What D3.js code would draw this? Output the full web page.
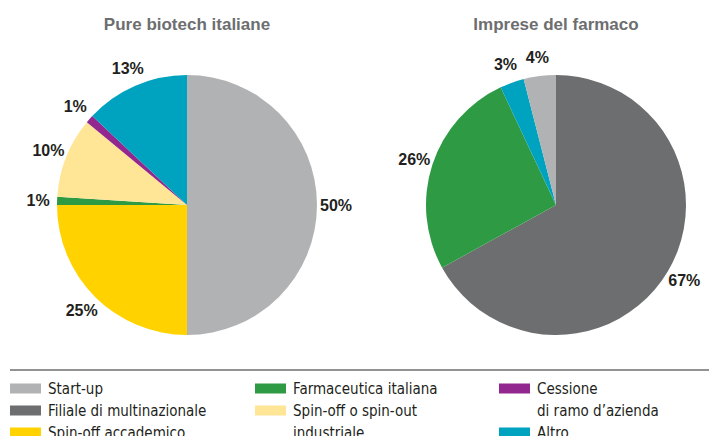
<!DOCTYPE html>
<html>
<head>
<meta charset="utf-8">
<script src="https://cdn.jsdelivr.net/npm/d3@7"></script>
<style>
  body { margin: 0; background: #fff; }
  .title { font-family: "Liberation Sans", Arial, sans-serif; font-weight: bold; font-size: 17px; fill: #6d6e70; }
  .pct { font-family: "Liberation Sans", Arial, sans-serif; font-weight: bold; font-size: 16px; fill: #231f20; }
  .leg { font-family: "Liberation Sans Narrow", "DejaVu Sans Condensed", sans-serif; font-size: 15px; fill: #231f20; }
</style>
</head>
<body>
<svg id="chart" width="709" height="436"></svg>
<script>
// categories and colours
var categories = ["Start-up", "Filiale di multinazionale", "Spin-off accademico",
                  "Farmaceutica italiana", "Spin-off o spin-out industriale",
                  "Cessione di ramo d'azienda", "Altro"];
var colors = ["#b1b2b4", "#6d6e70", "#ffd200", "#2e9a43", "#ffe697", "#92278f", "#00a3bf"];

// pie 1: Pure biotech italiane (clockwise from 12 o'clock)
var biotechCats = ["Start-up", "Spin-off accademico", "Farmaceutica italiana",
                   "Spin-off o spin-out industriale", "Cessione di ramo d'azienda", "Altro"];
var biotechValues = [50, 25, 1, 10, 1, 13];

// pie 2: Imprese del farmaco
var farmacoCats = ["Filiale di multinazionale", "Farmaceutica italiana", "Altro", "Start-up"];
var farmacoValues = [67, 26, 3, 4];

var titles = ["Pure biotech italiane", "Imprese del farmaco"];

// legend entries, placed by column / row
var legendLines = [
  {cat: "Start-up", col: 0, row: 0, lines: ["Start-up"]},
  {cat: "Filiale di multinazionale", col: 0, row: 1, lines: ["Filiale di multinazionale"]},
  {cat: "Spin-off accademico", col: 0, row: 2, lines: ["Spin-off accademico"]},
  {cat: "Farmaceutica italiana", col: 1, row: 0, lines: ["Farmaceutica italiana"]},
  {cat: "Spin-off o spin-out industriale", col: 1, row: 1, lines: ["Spin-off o spin-out", "industriale"]},
  {cat: "Cessione di ramo d'azienda", col: 2, row: 0, lines: ["Cessione", "di ramo d\u2019azienda"]},
  {cat: "Altro", col: 2, row: 2, lines: ["Altro"]}
];

var svg = d3.select("#chart");
var color = d3.scaleOrdinal().domain(categories).range(colors);

var radius = 130,
    labelRadius = 149;

var pie = d3.pie().sort(null).value(function(d) { return d.value; });
var arc = d3.arc().innerRadius(0).outerRadius(radius);
var labelArc = d3.arc().innerRadius(labelRadius).outerRadius(labelRadius);

function drawPie(cx, title, cats, values) {
  var data = cats.map(function(c, i) { return {cat: c, value: values[i]}; });
  var g = svg.append("g").attr("transform", "translate(" + cx + ",205)");

  svg.append("text")
    .attr("class", "title")
    .attr("x", cx)
    .attr("y", 30)
    .attr("text-anchor", "middle")
    .text(title);

  g.selectAll(".slice")
    .data(pie(data))
    .enter().append("path")
    .attr("class", "slice")
    .attr("d", arc)
    .attr("fill", function(d) { return color(d.data.cat); });

  g.selectAll(".pct")
    .data(pie(data))
    .enter().append("text")
    .attr("class", "pct")
    .attr("transform", function(d) { return "translate(" + labelArc.centroid(d) + ")"; })
    .attr("text-anchor", "middle")
    .attr("dy", "0.35em")
    .text(function(d) { return d.data.value + "%"; });
}

drawPie(187, titles[0], biotechCats, biotechValues);
drawPie(556, titles[1], farmacoCats, farmacoValues);

// legend
svg.append("line")
  .attr("x1", 10).attr("x2", 709)
  .attr("y1", 370).attr("y2", 370)
  .attr("stroke", "#6d6e70")
  .attr("stroke-width", 1.5);

var colX = [10, 255, 499],
    rowY = 388,
    rowH = 22;

var items = svg.append("g").selectAll("g")
  .data(legendLines)
  .enter().append("g")
  .attr("transform", function(d) { return "translate(" + colX[d.col] + "," + (rowY + d.row * rowH) + ")"; });

items.append("rect")
  .attr("x", 0).attr("y", -4.5)
  .attr("width", 31).attr("height", 10)
  .attr("fill", function(d) { return color(d.cat); });

items.each(function(d) {
  var t = d3.select(this);
  d.lines.forEach(function(line, i) {
    t.append("text")
      .attr("class", "leg")
      .attr("x", 38)
      .attr("y", i * rowH + 5.5)
      .text(line);
  });
});
</script>
</body>
</html>
